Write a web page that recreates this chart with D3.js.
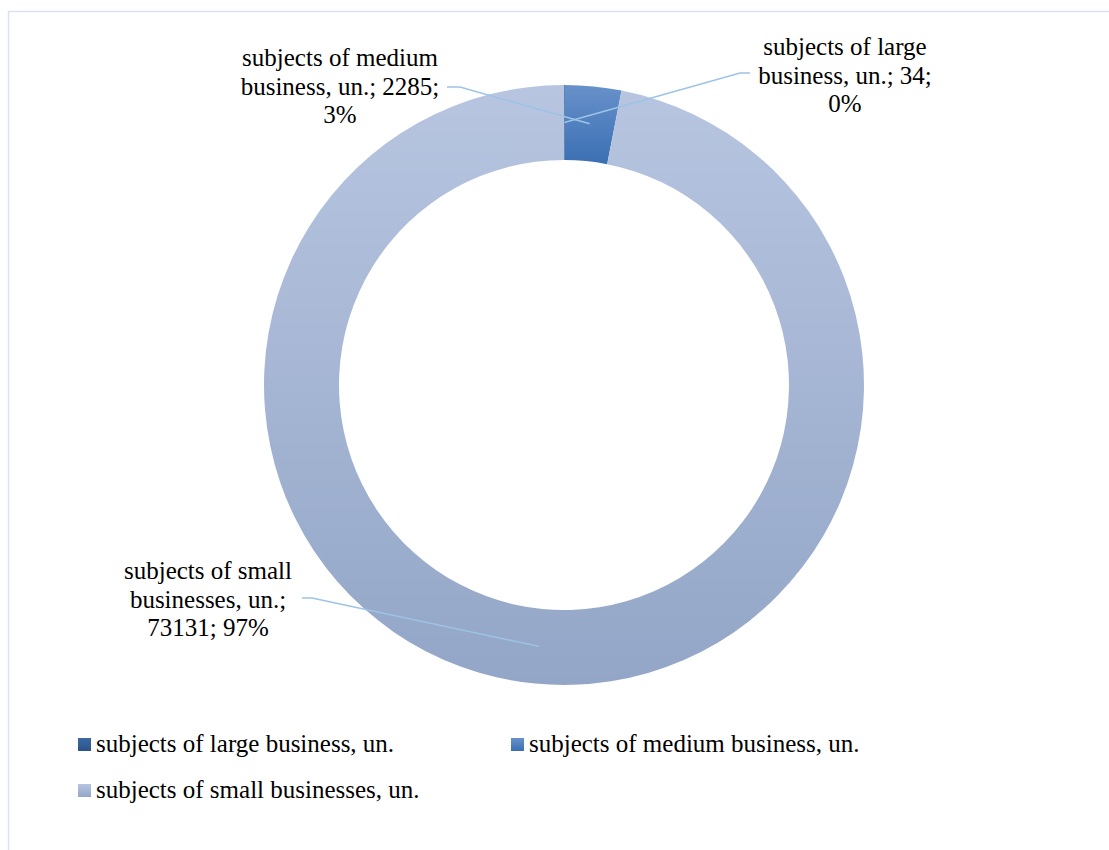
<!DOCTYPE html>
<html>
<head>
<meta charset="utf-8">
<script src="https://cdn.jsdelivr.net/npm/d3@7/dist/d3.min.js"></script>
<style>
  html, body { margin: 0; padding: 0; background: #ffffff; }
  svg { display: block; }
  text { font-family: "Liberation Serif", "Times New Roman", serif; fill: #000; }
</style>
</head>
<body>
<svg id="chart" width="1109" height="850"></svg>
<script>
// ---- data ----
const categories = ["subjects of large business, un.", "subjects of medium business, un.", "subjects of small businesses, un."];
const values = [34, 2285, 73131];
const percentLabels = ["0%", "3%", "97%"];
const labelLines = [
  ["subjects of large", "business, un.; 34;", "0%"],
  ["subjects of medium", "business, un.; 2285;", "3%"],
  ["subjects of small", "businesses, un.;", "73131; 97%"]
];
const colorsTop = ["#3c69a3", "#6891ca", "#b7c5e0"];
const colorsBottom = ["#2b5289", "#3a6fb3", "#93a6c7"];

// ---- layout ----
const W = 1109, H = 850;
const cx = 564, cy = 385, rOuter = 300, rInner = 225;
const svg = d3.select("#chart");

// border
svg.append("rect")
  .attr("x", 8.5).attr("y", 11.5)
  .attr("width", W + 20).attr("height", H + 20)
  .attr("fill", "none").attr("stroke", "#d9e2f3").attr("stroke-width", 1.5);

const defs = svg.append("defs");
categories.forEach((c, i) => {
  const g = defs.append("linearGradient").attr("id", "grad" + i)
    .attr("x1", 0).attr("y1", 0).attr("x2", 0).attr("y2", 1);
  g.append("stop").attr("offset", "0%").attr("stop-color", colorsTop[i]);
  g.append("stop").attr("offset", "100%").attr("stop-color", colorsBottom[i]);
});

const pie = d3.pie().sort(null).value(d => d)(values);
const arc = d3.arc().innerRadius(rInner).outerRadius(rOuter);
const midArc = d3.arc().innerRadius((rInner + rOuter) / 2).outerRadius((rInner + rOuter) / 2);

const g = svg.append("g").attr("transform", `translate(${cx},${cy})`);
g.selectAll("path.slice").data(pie).enter().append("path")
  .attr("class", "slice")
  .attr("d", arc)
  .attr("fill", (d, i) => `url(#grad${i})`);

// label placement (layout, in chart coords)
const labelPos = [
  { x: 845, y: 55, lx: 750, ly: 73, hx: 740 },
  { x: 340, y: 66, lx: 447, ly: 87, hx: 460 },
  { x: 208, y: 579, lx: 302, ly: 598, hx: 312 }
];
const lineH = 28.5;

pie.forEach((d, i) => {
  const c = midArc.centroid(d);
  const p = labelPos[i];
  svg.append("polyline")
    .attr("points", `${p.lx},${p.ly} ${p.hx},${p.ly} ${cx + c[0]},${cy + c[1]}`)
    .attr("fill", "none").attr("stroke", "#9dc3e6").attr("stroke-width", 1.5);
});

labelLines.forEach((lines, i) => {
  const p = labelPos[i];
  const t = svg.append("text").attr("text-anchor", "middle").attr("font-size", 25);
  lines.forEach((ln, k) => {
    t.append("tspan").attr("x", p.x).attr("y", p.y + k * lineH).text(ln);
  });
});

// legend
const legendPos = [
  { x: 78, y: 738 },
  { x: 511, y: 738 },
  { x: 78, y: 784 }
];
categories.forEach((c, i) => {
  const p = legendPos[i];
  svg.append("rect").attr("x", p.x).attr("y", p.y).attr("width", 13).attr("height", 13)
    .attr("fill", `url(#grad${i})`);
  svg.append("text").attr("x", p.x + 18).attr("y", p.y + 13.5)
    .attr("font-size", 25).text(c);
});
</script>
</body>
</html>
